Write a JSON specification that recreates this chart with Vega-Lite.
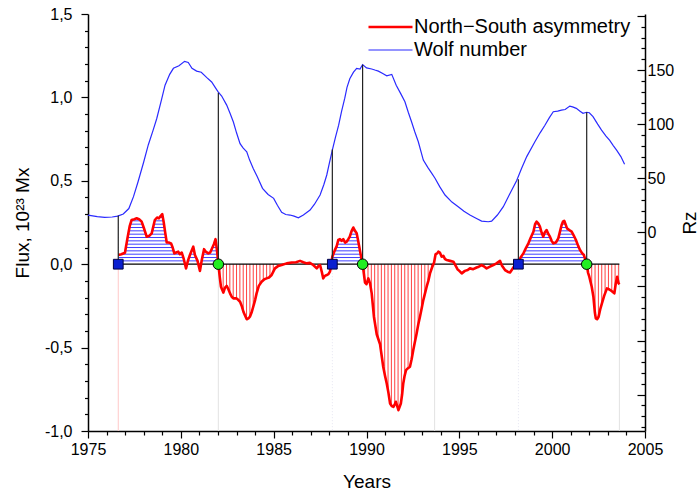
{
  "$schema": "https://vega.github.io/schema/vega-lite/v6.json",
  "width": 557,
  "height": 417,
  "autosize": "none",
  "padding": {"left": 88, "top": 14, "right": 54, "bottom": 63},
  "config": {
    "view": {"stroke": null},
    "font": "Liberation Sans",
    "axis": {"domainColor": "#000", "domainWidth": 1.5, "tickColor": "#000", "tickWidth": 1.2, "labelFontSize": 16, "labelColor": "#000", "titleFontSize": 19, "titleFontWeight": "normal", "titleColor": "#000", "grid": false, "labelFont": "Liberation Sans", "titleFont": "Liberation Sans", "labelOverlap": false, "labelFlush": false}
  },
  "datasets": {
    "ns": [
      {"year": 1976.63, "flux": 0.055}, {"year": 1976.8, "flux": 0.06}, {"year": 1976.99, "flux": 0.069}, {"year": 1977.14, "flux": 0.165}, {"year": 1977.25, "flux": 0.23}, {"year": 1977.35, "flux": 0.265}, {"year": 1977.5, "flux": 0.27}, {"year": 1977.62, "flux": 0.275}, {"year": 1977.75, "flux": 0.27}, {"year": 1977.89, "flux": 0.255}, {"year": 1978.0, "flux": 0.22}, {"year": 1978.16, "flux": 0.165}, {"year": 1978.3, "flux": 0.17}, {"year": 1978.43, "flux": 0.185}, {"year": 1978.6, "flux": 0.265}, {"year": 1978.72, "flux": 0.28}, {"year": 1978.82, "flux": 0.275}, {"year": 1978.92, "flux": 0.29}, {"year": 1979.0, "flux": 0.3}, {"year": 1979.08, "flux": 0.25}, {"year": 1979.15, "flux": 0.195}, {"year": 1979.24, "flux": 0.13}, {"year": 1979.35, "flux": 0.13}, {"year": 1979.47, "flux": 0.125}, {"year": 1979.56, "flux": 0.1}, {"year": 1979.65, "flux": 0.065}, {"year": 1979.75, "flux": 0.07}, {"year": 1979.86, "flux": 0.075}, {"year": 1979.95, "flux": 0.06}, {"year": 1980.05, "flux": 0.07}, {"year": 1980.16, "flux": 0.03}, {"year": 1980.28, "flux": -0.025}, {"year": 1980.38, "flux": 0.02}, {"year": 1980.49, "flux": 0.055}, {"year": 1980.58, "flux": 0.08}, {"year": 1980.67, "flux": 0.105}, {"year": 1980.76, "flux": 0.055}, {"year": 1980.9, "flux": 0.02}, {"year": 1981.03, "flux": -0.04}, {"year": 1981.12, "flux": 0.02}, {"year": 1981.25, "flux": 0.09}, {"year": 1981.34, "flux": 0.075}, {"year": 1981.48, "flux": 0.065}, {"year": 1981.58, "flux": 0.07}, {"year": 1981.66, "flux": 0.09}, {"year": 1981.78, "flux": 0.12}, {"year": 1981.87, "flux": 0.15}, {"year": 1981.96, "flux": 0.07}, {"year": 1982.02, "flux": 0.0}, {"year": 1982.1, "flux": -0.08}, {"year": 1982.16, "flux": -0.135}, {"year": 1982.29, "flux": -0.17}, {"year": 1982.38, "flux": -0.14}, {"year": 1982.47, "flux": -0.13}, {"year": 1982.56, "flux": -0.15}, {"year": 1982.65, "flux": -0.175}, {"year": 1982.74, "flux": -0.195}, {"year": 1982.83, "flux": -0.205}, {"year": 1983.0, "flux": -0.205}, {"year": 1983.1, "flux": -0.215}, {"year": 1983.19, "flux": -0.225}, {"year": 1983.28, "flux": -0.25}, {"year": 1983.37, "flux": -0.285}, {"year": 1983.47, "flux": -0.31}, {"year": 1983.55, "flux": -0.33}, {"year": 1983.64, "flux": -0.325}, {"year": 1983.72, "flux": -0.315}, {"year": 1983.81, "flux": -0.29}, {"year": 1983.9, "flux": -0.255}, {"year": 1984.0, "flux": -0.215}, {"year": 1984.08, "flux": -0.175}, {"year": 1984.2, "flux": -0.13}, {"year": 1984.35, "flux": -0.105}, {"year": 1984.5, "flux": -0.09}, {"year": 1984.62, "flux": -0.085}, {"year": 1984.75, "flux": -0.08}, {"year": 1984.89, "flux": -0.065}, {"year": 1985.0, "flux": -0.04}, {"year": 1985.07, "flux": -0.025}, {"year": 1985.25, "flux": -0.01}, {"year": 1985.43, "flux": -0.005}, {"year": 1985.7, "flux": 0.005}, {"year": 1985.97, "flux": 0.01}, {"year": 1986.2, "flux": 0.012}, {"year": 1986.42, "flux": 0.02}, {"year": 1986.6, "flux": 0.012}, {"year": 1986.78, "flux": 0.005}, {"year": 1986.95, "flux": 0.008}, {"year": 1987.13, "flux": -0.005}, {"year": 1987.32, "flux": -0.025}, {"year": 1987.42, "flux": -0.01}, {"year": 1987.5, "flux": -0.005}, {"year": 1987.6, "flux": -0.05}, {"year": 1987.67, "flux": -0.085}, {"year": 1987.76, "flux": -0.07}, {"year": 1987.86, "flux": -0.065}, {"year": 1987.95, "flux": -0.06}, {"year": 1988.03, "flux": -0.045}, {"year": 1988.1, "flux": -0.01}, {"year": 1988.16, "flux": 0.045}, {"year": 1988.28, "flux": 0.08}, {"year": 1988.4, "flux": 0.11}, {"year": 1988.48, "flux": 0.145}, {"year": 1988.57, "flux": 0.15}, {"year": 1988.66, "flux": 0.14}, {"year": 1988.75, "flux": 0.15}, {"year": 1988.85, "flux": 0.13}, {"year": 1988.93, "flux": 0.135}, {"year": 1989.02, "flux": 0.15}, {"year": 1989.1, "flux": 0.165}, {"year": 1989.2, "flux": 0.2}, {"year": 1989.29, "flux": 0.22}, {"year": 1989.38, "flux": 0.2}, {"year": 1989.47, "flux": 0.185}, {"year": 1989.55, "flux": 0.14}, {"year": 1989.61, "flux": 0.105}, {"year": 1989.7, "flux": 0.05}, {"year": 1989.79, "flux": 0.0}, {"year": 1989.92, "flux": -0.11}, {"year": 1990.0, "flux": -0.12}, {"year": 1990.1, "flux": -0.085}, {"year": 1990.19, "flux": -0.115}, {"year": 1990.28, "flux": -0.175}, {"year": 1990.4, "flux": -0.315}, {"year": 1990.55, "flux": -0.42}, {"year": 1990.64, "flux": -0.45}, {"year": 1990.73, "flux": -0.48}, {"year": 1990.9, "flux": -0.615}, {"year": 1991.0, "flux": -0.67}, {"year": 1991.09, "flux": -0.715}, {"year": 1991.18, "flux": -0.77}, {"year": 1991.27, "flux": -0.835}, {"year": 1991.36, "flux": -0.85}, {"year": 1991.45, "flux": -0.855}, {"year": 1991.52, "flux": -0.84}, {"year": 1991.58, "flux": -0.825}, {"year": 1991.65, "flux": -0.85}, {"year": 1991.72, "flux": -0.875}, {"year": 1991.8, "flux": -0.85}, {"year": 1991.85, "flux": -0.835}, {"year": 1991.92, "flux": -0.78}, {"year": 1991.98, "flux": -0.715}, {"year": 1992.05, "flux": -0.67}, {"year": 1992.13, "flux": -0.635}, {"year": 1992.22, "flux": -0.625}, {"year": 1992.34, "flux": -0.615}, {"year": 1992.43, "flux": -0.57}, {"year": 1992.52, "flux": -0.515}, {"year": 1992.6, "flux": -0.47}, {"year": 1992.7, "flux": -0.415}, {"year": 1992.79, "flux": -0.36}, {"year": 1992.88, "flux": -0.315}, {"year": 1992.97, "flux": -0.265}, {"year": 1993.06, "flux": -0.215}, {"year": 1993.15, "flux": -0.175}, {"year": 1993.24, "flux": -0.135}, {"year": 1993.33, "flux": -0.1}, {"year": 1993.42, "flux": -0.055}, {"year": 1993.53, "flux": -0.02}, {"year": 1993.64, "flux": 0.01}, {"year": 1993.72, "flux": 0.06}, {"year": 1993.81, "flux": 0.065}, {"year": 1993.87, "flux": 0.075}, {"year": 1993.95, "flux": 0.07}, {"year": 1994.05, "flux": 0.045}, {"year": 1994.14, "flux": 0.05}, {"year": 1994.23, "flux": 0.03}, {"year": 1994.32, "flux": 0.025}, {"year": 1994.5, "flux": 0.02}, {"year": 1994.68, "flux": 0.015}, {"year": 1994.9, "flux": -0.03}, {"year": 1995.0, "flux": -0.04}, {"year": 1995.13, "flux": -0.055}, {"year": 1995.3, "flux": -0.04}, {"year": 1995.45, "flux": -0.035}, {"year": 1995.57, "flux": -0.025}, {"year": 1995.75, "flux": -0.03}, {"year": 1995.93, "flux": -0.02}, {"year": 1996.05, "flux": -0.015}, {"year": 1996.2, "flux": -0.005}, {"year": 1996.35, "flux": -0.015}, {"year": 1996.47, "flux": -0.025}, {"year": 1996.65, "flux": -0.015}, {"year": 1996.83, "flux": -0.005}, {"year": 1997.0, "flux": 0.005}, {"year": 1997.19, "flux": 0.02}, {"year": 1997.3, "flux": -0.01}, {"year": 1997.46, "flux": -0.035}, {"year": 1997.6, "flux": -0.045}, {"year": 1997.73, "flux": -0.05}, {"year": 1997.85, "flux": -0.03}, {"year": 1998.0, "flux": -0.005}, {"year": 1998.18, "flux": 0.01}, {"year": 1998.3, "flux": 0.04}, {"year": 1998.45, "flux": 0.065}, {"year": 1998.6, "flux": 0.1}, {"year": 1998.72, "flux": 0.125}, {"year": 1998.85, "flux": 0.16}, {"year": 1998.99, "flux": 0.195}, {"year": 1999.08, "flux": 0.24}, {"year": 1999.16, "flux": 0.255}, {"year": 1999.25, "flux": 0.245}, {"year": 1999.34, "flux": 0.225}, {"year": 1999.43, "flux": 0.19}, {"year": 1999.52, "flux": 0.165}, {"year": 1999.6, "flux": 0.19}, {"year": 1999.7, "flux": 0.205}, {"year": 1999.8, "flux": 0.18}, {"year": 1999.88, "flux": 0.165}, {"year": 1999.97, "flux": 0.14}, {"year": 2000.06, "flux": 0.125}, {"year": 2000.2, "flux": 0.13}, {"year": 2000.33, "flux": 0.155}, {"year": 2000.43, "flux": 0.2}, {"year": 2000.51, "flux": 0.235}, {"year": 2000.58, "flux": 0.255}, {"year": 2000.65, "flux": 0.26}, {"year": 2000.72, "flux": 0.24}, {"year": 2000.8, "flux": 0.215}, {"year": 2000.92, "flux": 0.205}, {"year": 2001.05, "flux": 0.195}, {"year": 2001.15, "flux": 0.175}, {"year": 2001.28, "flux": 0.145}, {"year": 2001.4, "flux": 0.11}, {"year": 2001.5, "flux": 0.085}, {"year": 2001.62, "flux": 0.065}, {"year": 2001.71, "flux": 0.055}, {"year": 2001.86, "flux": 0.0}, {"year": 2001.93, "flux": -0.05}, {"year": 2002.0, "flux": -0.075}, {"year": 2002.13, "flux": -0.135}, {"year": 2002.22, "flux": -0.195}, {"year": 2002.3, "flux": -0.29}, {"year": 2002.35, "flux": -0.325}, {"year": 2002.42, "flux": -0.33}, {"year": 2002.5, "flux": -0.315}, {"year": 2002.59, "flux": -0.27}, {"year": 2002.68, "flux": -0.235}, {"year": 2002.8, "flux": -0.19}, {"year": 2002.95, "flux": -0.145}, {"year": 2003.05, "flux": -0.15}, {"year": 2003.13, "flux": -0.155}, {"year": 2003.25, "flux": -0.165}, {"year": 2003.35, "flux": -0.175}, {"year": 2003.42, "flux": -0.12}, {"year": 2003.5, "flux": -0.075}, {"year": 2003.58, "flux": -0.115}, {"year": 2003.63, "flux": -0.12}
    ],
    "wolf": [
      {"year": 1975.0, "rz": 16}, {"year": 1975.5, "rz": 14.5}, {"year": 1975.9, "rz": 13.9}, {"year": 1976.3, "rz": 14.2}, {"year": 1976.6, "rz": 15}, {"year": 1976.9, "rz": 17}, {"year": 1977.2, "rz": 22}, {"year": 1977.45, "rz": 33}, {"year": 1977.7, "rz": 47}, {"year": 1978.0, "rz": 65}, {"year": 1978.25, "rz": 81}, {"year": 1978.5, "rz": 94}, {"year": 1978.7, "rz": 105}, {"year": 1978.95, "rz": 122}, {"year": 1979.15, "rz": 136}, {"year": 1979.4, "rz": 146}, {"year": 1979.6, "rz": 151.6}, {"year": 1979.9, "rz": 154}, {"year": 1980.2, "rz": 158}, {"year": 1980.4, "rz": 157}, {"year": 1980.6, "rz": 151.6}, {"year": 1980.85, "rz": 149}, {"year": 1981.1, "rz": 148}, {"year": 1981.4, "rz": 143}, {"year": 1981.66, "rz": 139}, {"year": 1981.85, "rz": 134}, {"year": 1982.0, "rz": 130}, {"year": 1982.2, "rz": 126}, {"year": 1982.47, "rz": 117.6}, {"year": 1982.65, "rz": 110}, {"year": 1982.83, "rz": 102}, {"year": 1983.0, "rz": 92}, {"year": 1983.19, "rz": 82}, {"year": 1983.35, "rz": 78}, {"year": 1983.55, "rz": 74.5}, {"year": 1983.7, "rz": 67}, {"year": 1983.9, "rz": 59}, {"year": 1984.1, "rz": 52}, {"year": 1984.4, "rz": 40.7}, {"year": 1984.7, "rz": 35}, {"year": 1985.0, "rz": 31.4}, {"year": 1985.2, "rz": 25}, {"year": 1985.43, "rz": 18.5}, {"year": 1985.65, "rz": 16.5}, {"year": 1985.88, "rz": 16}, {"year": 1986.1, "rz": 15}, {"year": 1986.33, "rz": 13.5}, {"year": 1986.6, "rz": 16}, {"year": 1986.96, "rz": 20.6}, {"year": 1987.2, "rz": 26}, {"year": 1987.5, "rz": 34.5}, {"year": 1987.7, "rz": 44}, {"year": 1987.86, "rz": 53}, {"year": 1988.0, "rz": 64}, {"year": 1988.16, "rz": 76}, {"year": 1988.33, "rz": 88}, {"year": 1988.5, "rz": 99}, {"year": 1988.66, "rz": 112}, {"year": 1988.83, "rz": 124}, {"year": 1988.95, "rz": 134}, {"year": 1989.1, "rz": 142}, {"year": 1989.3, "rz": 148}, {"year": 1989.47, "rz": 151.6}, {"year": 1989.65, "rz": 151}, {"year": 1989.79, "rz": 155}, {"year": 1990.0, "rz": 152}, {"year": 1990.28, "rz": 151}, {"year": 1990.45, "rz": 150}, {"year": 1990.64, "rz": 149}, {"year": 1990.85, "rz": 147}, {"year": 1991.09, "rz": 144.7}, {"year": 1991.36, "rz": 146}, {"year": 1991.6, "rz": 136}, {"year": 1991.85, "rz": 128}, {"year": 1992.07, "rz": 120.7}, {"year": 1992.25, "rz": 111}, {"year": 1992.43, "rz": 102}, {"year": 1992.6, "rz": 93}, {"year": 1992.79, "rz": 83.7}, {"year": 1993.06, "rz": 66.8}, {"year": 1993.3, "rz": 60}, {"year": 1993.5, "rz": 55}, {"year": 1993.69, "rz": 50}, {"year": 1993.95, "rz": 42}, {"year": 1994.23, "rz": 34.5}, {"year": 1994.6, "rz": 28}, {"year": 1994.94, "rz": 23.7}, {"year": 1995.25, "rz": 19.5}, {"year": 1995.57, "rz": 16}, {"year": 1995.9, "rz": 13}, {"year": 1996.2, "rz": 10.4}, {"year": 1996.56, "rz": 9.8}, {"year": 1996.74, "rz": 10.4}, {"year": 1997.05, "rz": 16}, {"year": 1997.37, "rz": 23.7}, {"year": 1997.7, "rz": 35}, {"year": 1998.09, "rz": 48}, {"year": 1998.35, "rz": 59}, {"year": 1998.63, "rz": 70}, {"year": 1999.07, "rz": 83.7}, {"year": 1999.35, "rz": 92}, {"year": 1999.61, "rz": 99}, {"year": 1999.85, "rz": 106}, {"year": 2000.06, "rz": 111.5}, {"year": 2000.3, "rz": 112}, {"year": 2000.5, "rz": 113}, {"year": 2000.7, "rz": 113.5}, {"year": 2000.95, "rz": 116.7}, {"year": 2001.1, "rz": 116}, {"year": 2001.3, "rz": 114.6}, {"year": 2001.5, "rz": 112}, {"year": 2001.66, "rz": 110}, {"year": 2001.86, "rz": 111}, {"year": 2002.0, "rz": 110.5}, {"year": 2002.2, "rz": 107}, {"year": 2002.45, "rz": 100}, {"year": 2002.66, "rz": 94.5}, {"year": 2002.9, "rz": 89}, {"year": 2003.1, "rz": 85}, {"year": 2003.3, "rz": 80}, {"year": 2003.47, "rz": 76}, {"year": 2003.7, "rz": 70}, {"year": 2003.9, "rz": 63}
    ],
    "hatchH": [
      {"x1": 1976.63, "x2": 1982.02, "lvl": 0.02}, {"x1": 1976.63, "x2": 1982.02, "lvl": 0.04}, {"x1": 1976.63, "x2": 1982.02, "lvl": 0.06}, {"x1": 1976.63, "x2": 1982.02, "lvl": 0.08}, {"x1": 1976.63, "x2": 1982.02, "lvl": 0.1}, {"x1": 1976.63, "x2": 1982.02, "lvl": 0.12}, {"x1": 1976.63, "x2": 1982.02, "lvl": 0.14}, {"x1": 1976.63, "x2": 1982.02, "lvl": 0.16}, {"x1": 1976.63, "x2": 1982.02, "lvl": 0.18}, {"x1": 1976.63, "x2": 1982.02, "lvl": 0.2}, {"x1": 1976.63, "x2": 1982.02, "lvl": 0.22}, {"x1": 1976.63, "x2": 1982.02, "lvl": 0.24}, {"x1": 1976.63, "x2": 1982.02, "lvl": 0.26}, {"x1": 1976.63, "x2": 1982.02, "lvl": 0.28},
      {"x1": 1988.16, "x2": 1989.79, "lvl": 0.02}, {"x1": 1988.16, "x2": 1989.79, "lvl": 0.04}, {"x1": 1988.16, "x2": 1989.79, "lvl": 0.06}, {"x1": 1988.16, "x2": 1989.79, "lvl": 0.08}, {"x1": 1988.16, "x2": 1989.79, "lvl": 0.1}, {"x1": 1988.16, "x2": 1989.79, "lvl": 0.12}, {"x1": 1988.16, "x2": 1989.79, "lvl": 0.14}, {"x1": 1988.16, "x2": 1989.79, "lvl": 0.16}, {"x1": 1988.16, "x2": 1989.79, "lvl": 0.18}, {"x1": 1988.16, "x2": 1989.79, "lvl": 0.2},
      {"x1": 1998.18, "x2": 2001.86, "lvl": 0.02}, {"x1": 1998.18, "x2": 2001.86, "lvl": 0.04}, {"x1": 1998.18, "x2": 2001.86, "lvl": 0.06}, {"x1": 1998.18, "x2": 2001.86, "lvl": 0.08}, {"x1": 1998.18, "x2": 2001.86, "lvl": 0.1}, {"x1": 1998.18, "x2": 2001.86, "lvl": 0.12}, {"x1": 1998.18, "x2": 2001.86, "lvl": 0.14}, {"x1": 1998.18, "x2": 2001.86, "lvl": 0.16}, {"x1": 1998.18, "x2": 2001.86, "lvl": 0.18}, {"x1": 1998.18, "x2": 2001.86, "lvl": 0.2}, {"x1": 1998.18, "x2": 2001.86, "lvl": 0.22}, {"x1": 1998.18, "x2": 2001.86, "lvl": 0.24}
    ],
    "hatchV": [
      {"year": 1982.1}, {"year": 1982.28}, {"year": 1982.46}, {"year": 1982.64}, {"year": 1982.82}, {"year": 1983.0}, {"year": 1983.18}, {"year": 1983.36}, {"year": 1983.54}, {"year": 1983.72}, {"year": 1983.9}, {"year": 1984.08}, {"year": 1984.26}, {"year": 1984.44}, {"year": 1984.62}, {"year": 1984.8}, {"year": 1984.98},
      {"year": 1989.9}, {"year": 1990.08}, {"year": 1990.26}, {"year": 1990.44}, {"year": 1990.62}, {"year": 1990.8}, {"year": 1990.98}, {"year": 1991.16}, {"year": 1991.34}, {"year": 1991.52}, {"year": 1991.7}, {"year": 1991.88}, {"year": 1992.06}, {"year": 1992.24}, {"year": 1992.42}, {"year": 1992.6}, {"year": 1992.78}, {"year": 1992.96}, {"year": 1993.14}, {"year": 1993.32}, {"year": 1993.5},
      {"year": 2001.95}, {"year": 2002.13}, {"year": 2002.31}, {"year": 2002.49}, {"year": 2002.67}, {"year": 2002.85}, {"year": 2003.03}, {"year": 2003.21}, {"year": 2003.39}, {"year": 2003.57}
    ],
    "links": [
      {"year": 1976.63, "rz": 15.5}, {"year": 1982.02, "rz": 129}, {"year": 1988.16, "rz": 76.5}, {"year": 1989.79, "rz": 155}, {"year": 1998.18, "rz": 49}, {"year": 2001.86, "rz": 111}
    ],
    "starts": [{"year": 1976.63, "flux": 0}, {"year": 1988.16, "flux": 0}, {"year": 1998.18, "flux": 0}],
    "ends": [{"year": 1982.02, "flux": 0}, {"year": 1989.79, "flux": 0}, {"year": 2001.86, "flux": 0}]
  },
  "layer": [
    {
      "layer": [
        {
          "data": {"name": "hatchH"},
          "mark": {"type": "rule", "color": "#2a2aff", "strokeWidth": 0.9},
          "encoding": {
            "x": {"field": "x1", "type": "quantitative"},
            "x2": {"field": "x2"},
            "y": {"field": "lvl", "type": "quantitative", "scale": {"domain": [-1, 1.5], "nice": false, "zero": false}}
          }
        },
        {
          "data": {"name": "hatchV"},
          "mark": {"type": "rule", "color": "#ff2020", "strokeWidth": 0.9, "opacity": 0.95},
          "encoding": {
            "x": {"field": "year", "type": "quantitative"},
            "y": {"datum": 0, "type": "quantitative"},
            "y2": {"datum": -0.9}
          }
        },
        {"data": {"name": "ns"}, "transform": [{"filter": {"field": "year", "range": [1976.63, 1982.02]}}], "mark": {"type": "area", "color": "#fff", "opacity": 1}, "encoding": {"x": {"field": "year", "type": "quantitative"}, "y": {"field": "flux", "type": "quantitative"}, "y2": {"datum": 0.33}}},
        {"data": {"name": "ns"}, "transform": [{"filter": {"field": "year", "range": [1988.16, 1989.79]}}], "mark": {"type": "area", "color": "#fff", "opacity": 1}, "encoding": {"x": {"field": "year", "type": "quantitative"}, "y": {"field": "flux", "type": "quantitative"}, "y2": {"datum": 0.33}}},
        {"data": {"name": "ns"}, "transform": [{"filter": {"field": "year", "range": [1998.18, 2001.86]}}], "mark": {"type": "area", "color": "#fff", "opacity": 1}, "encoding": {"x": {"field": "year", "type": "quantitative"}, "y": {"field": "flux", "type": "quantitative"}, "y2": {"datum": 0.33}}},
        {"data": {"name": "ns"}, "transform": [{"filter": {"field": "year", "range": [1982.02, 1985.07]}}], "mark": {"type": "area", "color": "#fff", "opacity": 1}, "encoding": {"x": {"field": "year", "type": "quantitative"}, "y": {"field": "flux", "type": "quantitative"}, "y2": {"datum": -0.92}}},
        {"data": {"name": "ns"}, "transform": [{"filter": {"field": "year", "range": [1989.79, 1993.64]}}], "mark": {"type": "area", "color": "#fff", "opacity": 1}, "encoding": {"x": {"field": "year", "type": "quantitative"}, "y": {"field": "flux", "type": "quantitative"}, "y2": {"datum": -0.92}}},
        {"data": {"name": "ns"}, "transform": [{"filter": {"field": "year", "range": [2001.86, 2003.63]}}], "mark": {"type": "area", "color": "#fff", "opacity": 1}, "encoding": {"x": {"field": "year", "type": "quantitative"}, "y": {"field": "flux", "type": "quantitative"}, "y2": {"datum": -0.92}}},
        {
          "data": {"values": [{"year": 1976.63}]},
          "mark": {"type": "rule", "color": "#ffc8c8", "strokeWidth": 1},
          "encoding": {"x": {"field": "year", "type": "quantitative"}, "y": {"datum": 0, "type": "quantitative"}, "y2": {"datum": -1}}
        },
        {
          "data": {"values": [{"year": 1982.02}, {"year": 1993.67}, {"year": 2003.62}]},
          "mark": {"type": "rule", "color": "#e2e2e2", "strokeWidth": 1},
          "encoding": {"x": {"field": "year", "type": "quantitative"}, "y": {"datum": 0, "type": "quantitative"}, "y2": {"datum": -1}}
        },
        {
          "data": {"values": [{"year": 1988.16}, {"year": 1998.18}]},
          "mark": {"type": "rule", "color": "#e4e4f0", "strokeWidth": 1, "strokeDash": [1, 2]},
          "encoding": {"x": {"field": "year", "type": "quantitative"}, "y": {"datum": 0, "type": "quantitative"}, "y2": {"datum": -1}}
        },
        {
          "data": {"values": [{"x1": 1976.63, "x2": 2003.62, "flux": 0}]},
          "mark": {"type": "rule", "color": "#000", "strokeWidth": 1.2},
          "encoding": {"x": {"field": "x1", "type": "quantitative"}, "x2": {"field": "x2"}, "y": {"field": "flux", "type": "quantitative"}}
        },
        {
          "data": {"name": "ns"},
          "mark": {"type": "line", "strokeWidth": 2.6, "strokeJoin": "round"},
          "encoding": {
            "x": {"field": "year", "type": "quantitative", "title": "Years", "scale": {"domain": [1975, 2005], "nice": false, "zero": false},
              "axis": {"title": "Years", "tickCount": 1000, "values": [1975,1976,1977,1978,1979,1980,1981,1982,1983,1984,1985,1986,1987,1988,1989,1990,1991,1992,1993,1994,1995,1996,1997,1998,1999,2000,2001,2002,2003,2004,2005], "format": "d", "labelOverlap": false, "labelExpr": "datum.value % 5 === 0 ? datum.label : ''", "tickSize": {"condition": {"test": "datum.value % 5 === 0", "value": 7}, "value": 4}, "labelPadding": 3, "titlePadding": 15}},
            "y": {"field": "flux", "type": "quantitative", "title": "Flux, 10²³ Mx", "scale": {"domain": [-1, 1.5], "nice": false, "zero": false},
              "axis": {"title": "Flux, 10²³ Mx", "tickCount": 1000, "values": [-1,-0.9,-0.8,-0.7,-0.6,-0.5,-0.4,-0.3,-0.2,-0.1,0,0.1,0.2,0.3,0.4,0.5,0.6,0.7,0.8,0.9,1,1.1,1.2,1.3,1.4,1.5], "labelOverlap": false, "labelExpr": "abs(datum.value*2 - round(datum.value*2)) < 0.001 ? (datum.value < -0.001 ? '-' : '') + replace(format(abs(datum.value), '.1f'), '.', ',') : ''", "tickSize": {"condition": {"test": "abs(datum.value*2 - round(datum.value*2)) < 0.001", "value": 7}, "value": 3.5}, "labelPadding": 9, "titlePadding": 12}},
            "color": {"datum": "North−South asymmetry", "type": "nominal", "scale": {"domain": ["North−South asymmetry", "Wolf number"], "range": ["#ff0000", "#2a2aff"]},
              "legend": {"title": null, "orient": "none", "legendX": 306, "legendY": 3, "symbolType": "M-7.89,0H1.89", "symbolSize": 81, "labelFontSize": 20, "labelFont": "Liberation Sans", "labelColor": "#000", "labelOffset": 0, "labelLimit": 0, "rowPadding": 3, "padding": 0,
                "encode": {"symbols": {"update": {"strokeWidth": {"signal": "datum.value === 'Wolf number' ? 1.2 : 2.6"}}}}}}
          }
        }
      ]
    },
    {
      "layer": [
        {
          "data": {"name": "wolf"},
          "mark": {"type": "line", "strokeWidth": 1.2},
          "encoding": {
            "x": {"field": "year", "type": "quantitative"},
            "y": {"field": "rz", "type": "quantitative", "title": "Rz", "scale": {"domain": [-183.6, 201.8], "nice": false, "zero": false},
              "axis": {"title": "Rz", "orient": "right", "tickCount": 1000, "values": [-180,-170,-160,-150,-140,-130,-120,-110,-100,-90,-80,-70,-60,-50,-40,-30,-20,-10,0,10,20,30,40,50,60,70,80,90,100,110,120,130,140,150,160,170,180,190,200], "format": "d", "labelOverlap": false, "labelExpr": "(datum.value >= 0 && datum.value <= 150 && datum.value % 50 === 0) ? datum.label : ''", "tickSize": {"condition": {"test": "datum.value % 50 === 0", "value": -8}, "value": -4}, "labelPadding": 10, "titleAngle": 270, "titlePadding": 26}},
            "color": {"datum": "Wolf number", "type": "nominal"}
          }
        },
        {
          "data": {"name": "links"},
          "mark": {"type": "rule", "color": "#222", "strokeWidth": 1.2},
          "encoding": {
            "x": {"field": "year", "type": "quantitative"},
            "y": {"field": "rz", "type": "quantitative"},
            "y2": {"datum": -29.5}
          }
        }
      ]
    },
    {
      "layer": [
        {
          "data": {"name": "starts"},
          "mark": {"type": "point", "shape": "square", "filled": true, "size": 95, "color": "#0a1fd0", "stroke": "#000044", "strokeWidth": 1, "opacity": 1},
          "encoding": {
            "x": {"field": "year", "type": "quantitative"},
            "y": {"field": "flux", "type": "quantitative", "axis": null, "scale": {"domain": [-1, 1.5], "nice": false, "zero": false}}
          }
        },
        {
          "data": {"name": "ends"},
          "mark": {"type": "point", "shape": "circle", "filled": true, "size": 110, "color": "#22ee22", "stroke": "#000", "strokeWidth": 1, "opacity": 1},
          "encoding": {
            "x": {"field": "year", "type": "quantitative"},
            "y": {"field": "flux", "type": "quantitative", "axis": null}
          }
        }
      ]
    }
  ],
  "resolve": {"scale": {"y": "independent"}}
}
